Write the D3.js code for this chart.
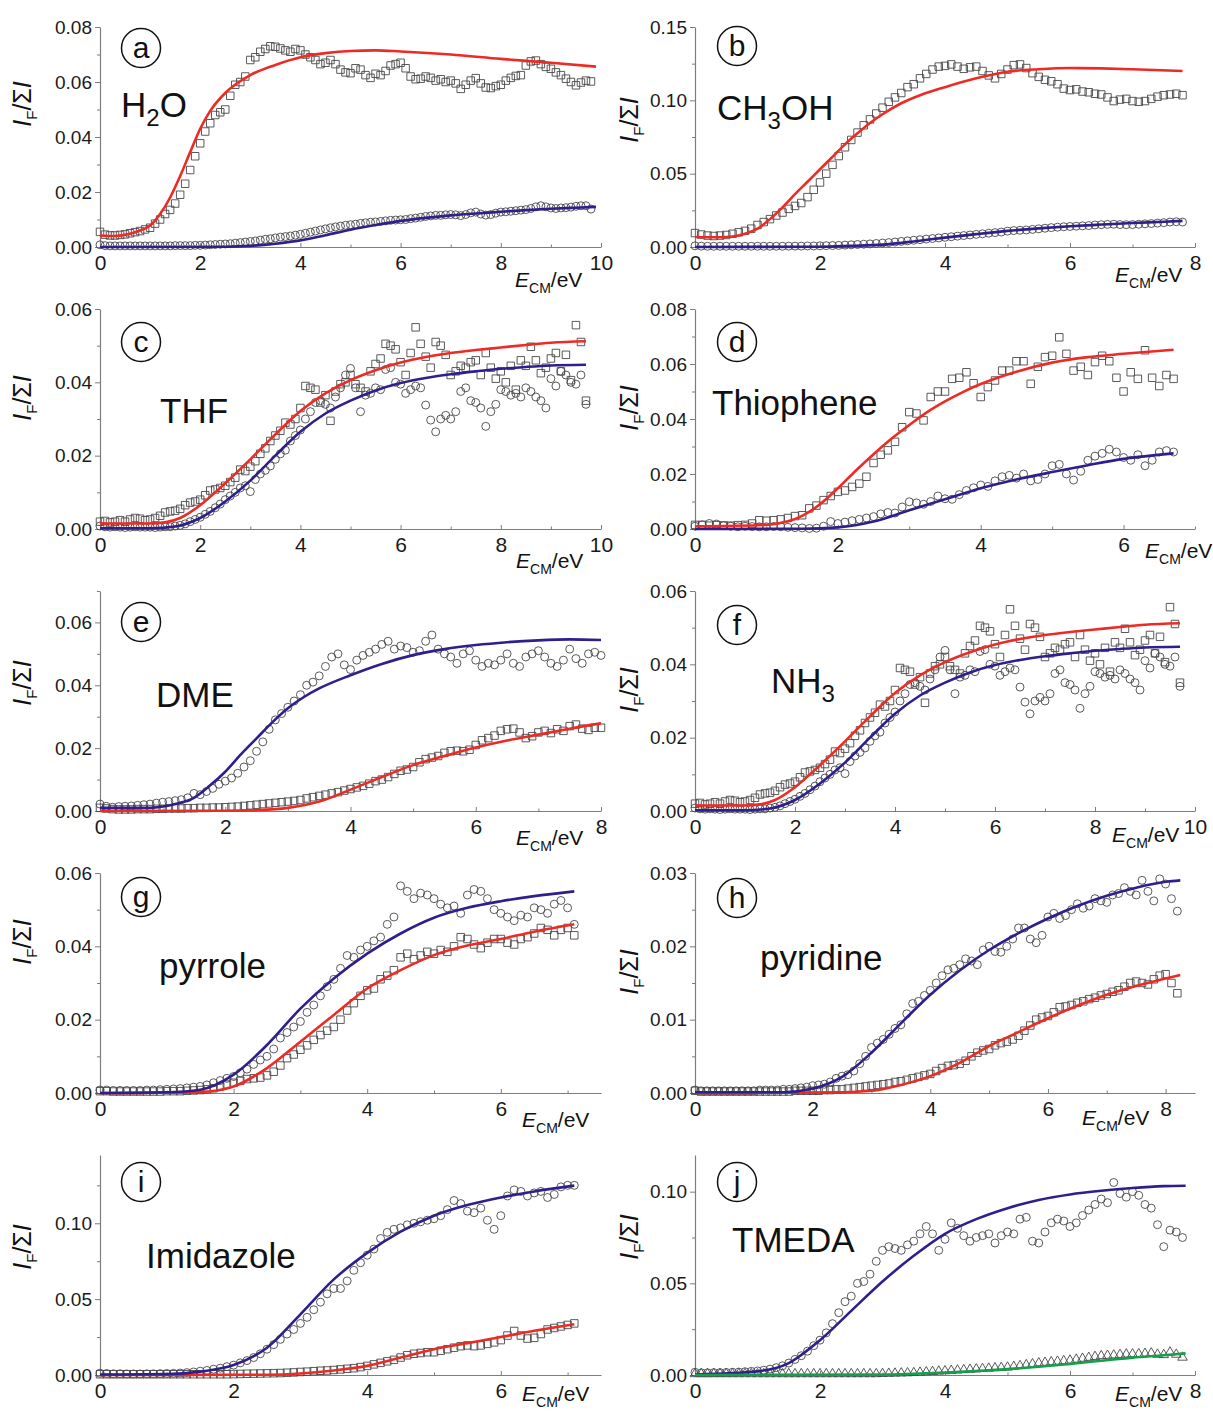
<!DOCTYPE html>
<html>
<head>
<meta charset="utf-8">
<script src="https://cdn.jsdelivr.net/npm/d3@7"></script>
<style>
body { margin: 0; background: #fff; }
svg { font-family: Arial, "Liberation Sans", sans-serif; }
</style>
</head>
<body>
<div class="container"></div>
<script>
const w = 1213
const h = 1412

const eStep = 0.1   // spacing of the measured points (eV), first point at 0

// (a) H2O
const aSquares = [
  0.0055,0.0045,0.0042,0.0042,0.0044,0.0046,0.0050,0.0054,0.0058,0.0064,
  0.0070,0.0085,0.0100,0.0120,0.0135,0.0158,0.0190,0.0230,0.0280,0.0330,
  0.0377,0.0420,0.0450,0.0480,0.0490,0.0500,0.0550,0.0590,0.0600,0.0620,
  0.0680,0.0690,0.0710,0.0720,0.0730,0.0728,0.0722,0.0715,0.0710,0.0720,
  0.0715,0.0700,0.0690,0.0680,0.0665,0.0670,0.0680,0.0665,0.0645,0.0635,
  0.0632,0.0650,0.0645,0.0625,0.0615,0.0630,0.0625,0.0640,0.0660,0.0665,
  0.0670,0.0650,0.0620,0.0610,0.0612,0.0620,0.0615,0.0605,0.0610,0.0600,
  0.0605,0.0595,0.0575,0.0590,0.0605,0.0614,0.0595,0.0580,0.0578,0.0585,
  0.0590,0.0605,0.0615,0.0622,0.0625,0.0660,0.0675,0.0678,0.0665,0.0655,
  0.0648,0.0635,0.0625,0.0612,0.0600,0.0588,0.0598,0.0605,0.0602]
const aCircles = [
  0.0008,0.0005,0.0004,0.0004,0.0004,0.0004,0.0004,0.0004,0.0004,0.0004,
  0.0004,0.0004,0.0004,0.0004,0.0004,0.0005,0.0005,0.0005,0.0005,0.0006,
  0.0006,0.0007,0.0008,0.0009,0.0010,0.0011,0.0012,0.0014,0.0016,0.0018,
  0.0020,0.0022,0.0025,0.0028,0.0030,0.0033,0.0036,0.0038,0.0040,0.0043,
  0.0046,0.0050,0.0054,0.0058,0.0062,0.0066,0.0070,0.0073,0.0076,0.0079,
  0.0081,0.0083,0.0086,0.0088,0.0090,0.0091,0.0093,0.0095,0.0097,0.0098,
  0.0099,0.0100,0.0103,0.0105,0.0108,0.0111,0.0113,0.0115,0.0115,0.0117,
  0.0118,0.0117,0.0114,0.0118,0.0124,0.0127,0.0120,0.0116,0.0118,0.0123,
  0.0127,0.0128,0.0130,0.0132,0.0134,0.0136,0.0140,0.0146,0.0150,0.0146,
  0.0142,0.0140,0.0142,0.0143,0.0145,0.0148,0.0150,0.0150,0.0138]
const aRedFit = [[0,0.0042],[0.3,0.0040],[0.6,0.0048],[0.8,0.0060],[1.0,0.0078],[1.2,0.0120],[1.4,0.0180],[1.6,0.0258],[1.8,0.0345],[2.0,0.0430],[2.2,0.0495],[2.5,0.0560],[3.0,0.0625],[3.5,0.0662],[4.0,0.0690],[4.5,0.0705],[5.0,0.0713],[5.5,0.0715],[6.0,0.0711],[7.0,0.0700],[8.0,0.0684],[9.0,0.0670],[9.9,0.0656]]
const aBlueFit = [[0,0],[2.5,0.0001],[3.0,0.0004],[3.5,0.0012],[4.0,0.0024],[4.5,0.0043],[5.0,0.0063],[5.5,0.0080],[6.0,0.0095],[6.5,0.0106],[7.0,0.0115],[7.5,0.0122],[8.0,0.0128],[8.5,0.0134],[9.0,0.0139],[9.5,0.0143],[9.9,0.0146]]

// (b) CH3OH
const bSquares = [
  0.0095,0.0085,0.0078,0.0075,0.0078,0.0082,0.0090,0.0100,0.0110,0.0125,
  0.0150,0.0170,0.0190,0.0215,0.0235,0.0260,0.0280,0.0300,0.0340,0.0390,
  0.0440,0.0500,0.0560,0.0620,0.0680,0.0730,0.0780,0.0830,0.0870,0.0910,
  0.0950,0.0990,0.1020,0.1050,0.1090,0.1110,0.1150,0.1180,0.1210,0.1230,
  0.1235,0.1245,0.1230,0.1215,0.1225,0.1230,0.1200,0.1170,0.1150,0.1180,
  0.1210,0.1240,0.1245,0.1220,0.1185,0.1160,0.1140,0.1130,0.1110,0.1080,
  0.1070,0.1075,0.1060,0.1055,0.1045,0.1040,0.1020,0.0995,0.1005,0.1010,
  0.0995,0.0990,0.0995,0.1010,0.1025,0.1035,0.1040,0.1045,0.1035]
const bCircles = [
  0.0008,0.0006,0.0005,0.0005,0.0005,0.0005,0.0005,0.0005,0.0005,0.0005,
  0.0005,0.0005,0.0005,0.0005,0.0005,0.0006,0.0006,0.0006,0.0007,0.0007,
  0.0008,0.0009,0.0010,0.0011,0.0013,0.0015,0.0017,0.0019,0.0021,0.0024,
  0.0027,0.0030,0.0034,0.0038,0.0042,0.0046,0.0050,0.0054,0.0058,0.0062,
  0.0066,0.0070,0.0074,0.0078,0.0082,0.0086,0.0090,0.0094,0.0098,0.0102,
  0.0108,0.0112,0.0114,0.0116,0.0120,0.0124,0.0128,0.0132,0.0135,0.0138,
  0.0140,0.0142,0.0144,0.0146,0.0150,0.0152,0.0154,0.0155,0.0153,0.0152,
  0.0153,0.0155,0.0158,0.0160,0.0163,0.0166,0.0170,0.0172,0.0170]
const bRedFit = [[0,0.0068],[0.3,0.0066],[0.6,0.0072],[0.8,0.0090],[1.0,0.0125],[1.2,0.0190],[1.4,0.0270],[1.6,0.0360],[1.8,0.0445],[2.0,0.0530],[2.2,0.0615],[2.4,0.0700],[2.6,0.0775],[2.8,0.0845],[3.0,0.0905],[3.3,0.0980],[3.6,0.1035],[4.0,0.1090],[4.5,0.1150],[5.0,0.1195],[5.5,0.1212],[6.0,0.1220],[6.5,0.1218],[7.0,0.1212],[7.8,0.1200]]
const bBlueFit = [[0,0],[2.0,0.0002],[2.5,0.0008],[3.0,0.0016],[3.5,0.0038],[4.0,0.0064],[4.5,0.0088],[5.0,0.0110],[5.5,0.0127],[6.0,0.0141],[6.5,0.0153],[7.0,0.0164],[7.5,0.0172],[7.8,0.0178]]

// (c) THF
const cSquares = [
  0.0020,0.0022,0.0018,0.0020,0.0024,0.0020,0.0026,0.0030,0.0028,0.0024,
  0.0026,0.0030,0.0036,0.0045,0.0048,0.0050,0.0055,0.0065,0.0072,0.0075,
  0.0080,0.0092,0.0105,0.0108,0.0112,0.0118,0.0128,0.0140,0.0162,0.0158,
  0.0170,0.0185,0.0205,0.0220,0.0240,0.0255,0.0268,0.0290,0.0285,0.0300,
  0.0330,0.0390,0.0385,0.0380,0.0345,0.0365,0.0295,0.0375,0.0395,0.0400,
  0.0420,0.0395,0.0385,0.0375,0.0430,0.0450,0.0465,0.0505,0.0500,0.0490,
  0.0455,0.0420,0.0480,0.0550,0.0505,0.0470,0.0440,0.0510,0.0500,0.0475,
  0.0420,0.0430,0.0445,0.0440,0.0455,0.0460,0.0420,0.0480,0.0440,0.0410,
  0.0430,0.0400,0.0445,0.0380,0.0460,0.0445,0.0497,0.0460,0.0425,0.0440,
  0.0465,0.0480,0.0430,0.0475,0.0406,0.0556,0.0510,0.0350]
const cCircles = [
  0.0008,0.0006,0.0005,0.0006,0.0005,0.0004,0.0005,0.0006,0.0005,0.0005,
  0.0005,0.0004,0.0005,0.0006,0.0006,0.0008,0.0010,0.0014,0.0020,0.0026,
  0.0032,0.0040,0.0048,0.0058,0.0068,0.0080,0.0090,0.0100,0.0112,0.0118,
  0.0102,0.0135,0.0150,0.0160,0.0172,0.0190,0.0205,0.0215,0.0240,0.0255,
  0.0270,0.0300,0.0320,0.0345,0.0350,0.0340,0.0330,0.0360,0.0385,0.0420,
  0.0438,0.0385,0.0320,0.0365,0.0370,0.0385,0.0380,0.0435,0.0440,0.0400,
  0.0395,0.0370,0.0380,0.0390,0.0385,0.0338,0.0297,0.0265,0.0300,0.0310,
  0.0300,0.0320,0.0375,0.0385,0.0350,0.0345,0.0330,0.0280,0.0320,0.0340,
  0.0380,0.0375,0.0365,0.0370,0.0360,0.0385,0.0375,0.0360,0.0350,0.0330,
  0.0410,0.0390,0.0430,0.0420,0.0400,0.0395,0.0420,0.0340]
const cRedFit = [[0,0.0015],[1.0,0.0015],[1.3,0.0018],[1.6,0.0030],[2.0,0.0065],[2.5,0.0125],[3.0,0.0190],[3.5,0.0258],[4.0,0.0322],[4.5,0.0370],[5.0,0.0406],[5.5,0.0433],[6.0,0.0454],[6.5,0.0469],[7.0,0.0480],[7.5,0.0488],[8.0,0.0495],[8.5,0.0502],[9.0,0.0508],[9.7,0.0512]]
const cBlueFit = [[0,0.0002],[1.0,0.0002],[1.5,0.0007],[2.0,0.0030],[2.5,0.0075],[3.0,0.0132],[3.5,0.0200],[4.0,0.0265],[4.5,0.0315],[5.0,0.0350],[5.5,0.0378],[6.0,0.0398],[6.5,0.0412],[7.0,0.0422],[7.5,0.0430],[8.0,0.0437],[8.5,0.0442],[9.0,0.0446],[9.7,0.0448]]

// (d) Thiophene
const dSquares = [
  0.0015,0.0015,0.0012,0.0014,0.0013,0.0012,0.0014,0.0015,0.0020,0.0032,
  0.0030,0.0032,0.0035,0.0040,0.0047,0.0050,0.0075,0.0085,0.0105,0.0120,
  0.0135,0.0140,0.0153,0.0165,0.0190,0.0240,0.0270,0.0286,0.0317,0.0370,
  0.0425,0.0420,0.0395,0.0480,0.0500,0.0500,0.0546,0.0550,0.0570,0.0530,
  0.0480,0.0516,0.0540,0.0576,0.0576,0.0610,0.0610,0.0528,0.0590,0.0625,
  0.0630,0.0697,0.0637,0.0576,0.0590,0.0560,0.0607,0.0630,0.0610,0.0550,
  0.0500,0.0570,0.0546,0.0650,0.0550,0.0520,0.0560,0.0546]
const dCircles = [
  0.0010,0.0015,0.0020,0.0018,0.0012,0.0010,0.0008,0.0010,0.0009,0.0008,
  0.0008,0.0009,0.0008,0.0006,0.0005,0.0004,0.0002,0.0003,0.0010,0.0027,
  0.0020,0.0025,0.0030,0.0035,0.0040,0.0045,0.0055,0.0060,0.0058,0.0080,
  0.0099,0.0095,0.0090,0.0100,0.0120,0.0110,0.0108,0.0125,0.0140,0.0150,
  0.0160,0.0155,0.0175,0.0190,0.0195,0.0185,0.0200,0.0175,0.0180,0.0200,
  0.0230,0.0235,0.0200,0.0178,0.0210,0.0250,0.0265,0.0275,0.0290,0.0280,
  0.0260,0.0250,0.0270,0.0230,0.0250,0.0280,0.0285,0.0280]
const dRedFit = [[0,0.0010],[1.0,0.0015],[1.3,0.0028],[1.5,0.0048],[1.75,0.0090],[2.0,0.0148],[2.25,0.0212],[2.5,0.0272],[2.75,0.0328],[3.0,0.0378],[3.25,0.0425],[3.5,0.0464],[3.75,0.0498],[4.0,0.0527],[4.5,0.0572],[5.0,0.0605],[5.5,0.0625],[6.0,0.0637],[6.7,0.0652]]
const dBlueFit = [[0,0],[1.5,0.0001],[2.0,0.0006],[2.5,0.0027],[3.0,0.0068],[3.5,0.0108],[4.0,0.0148],[4.5,0.0180],[5.0,0.0207],[5.5,0.0232],[6.0,0.0255],[6.7,0.0275]]

// (e) DME
const eCircles = [
  0.0022,0.0015,0.0012,0.0014,0.0015,0.0016,0.0018,0.0020,0.0022,0.0025,
  0.0028,0.0030,0.0033,0.0036,0.0042,0.0056,0.0052,0.0062,0.0072,0.0085,
  0.0095,0.0105,0.0120,0.0140,0.0160,0.0190,0.0220,0.0260,0.0290,0.0310,
  0.0330,0.0350,0.0370,0.0400,0.0410,0.0430,0.0460,0.0490,0.0500,0.0465,
  0.0450,0.0480,0.0495,0.0505,0.0515,0.0530,0.0540,0.0515,0.0525,0.0520,
  0.0505,0.0510,0.0540,0.0560,0.0515,0.0500,0.0490,0.0470,0.0500,0.0510,
  0.0480,0.0460,0.0470,0.0465,0.0480,0.0500,0.0470,0.0460,0.0490,0.0500,
  0.0510,0.0490,0.0470,0.0460,0.0480,0.0515,0.0485,0.0470,0.0500,0.0505,0.0495]
const eSquares = [
  0.0010,0.0008,0.0006,0.0005,0.0005,0.0005,0.0006,0.0006,0.0006,0.0007,
  0.0007,0.0008,0.0008,0.0008,0.0009,0.0009,0.0010,0.0010,0.0011,0.0011,
  0.0012,0.0013,0.0014,0.0016,0.0018,0.0020,0.0022,0.0024,0.0026,0.0028,
  0.0030,0.0032,0.0035,0.0040,0.0044,0.0048,0.0052,0.0056,0.0060,0.0065,
  0.0070,0.0075,0.0080,0.0087,0.0095,0.0100,0.0108,0.0118,0.0128,0.0132,
  0.0140,0.0155,0.0165,0.0170,0.0175,0.0185,0.0190,0.0192,0.0190,0.0195,
  0.0210,0.0225,0.0232,0.0240,0.0255,0.0260,0.0262,0.0250,0.0232,0.0238,
  0.0250,0.0255,0.0248,0.0260,0.0255,0.0270,0.0275,0.0262,0.0258,0.0265,0.0265]
const eBlueFit = [[0,0.0010],[0.8,0.0010],[1.2,0.0022],[1.5,0.0042],[1.75,0.0080],[2.0,0.0125],[2.25,0.0180],[2.5,0.0231],[2.75,0.0282],[3.0,0.0327],[3.25,0.0362],[3.5,0.0390],[4.0,0.0432],[4.5,0.0468],[5.0,0.0496],[5.5,0.0515],[6.0,0.0528],[6.5,0.0537],[7.0,0.0543],[7.5,0.0546],[8.0,0.0544]]
const eRedFit = [[0,0],[2.0,0.0001],[2.5,0.0003],[3.0,0.0010],[3.5,0.0030],[4.0,0.0068],[4.5,0.0108],[5.0,0.0146],[5.5,0.0175],[6.0,0.0202],[6.5,0.0224],[7.0,0.0243],[7.5,0.0262],[8.0,0.0279]]

// (f) NH3 -- the published panel carries the same points as (c)
const fSquares = cSquares
const fCircles = cCircles
const fRedFit = cRedFit
const fBlueFit = cBlueFit

// (g) pyrrole
const gCircles = [
  0.0008,0.0008,0.0007,0.0007,0.0007,0.0007,0.0007,0.0008,0.0008,0.0009,
  0.0010,0.0011,0.0012,0.0014,0.0016,0.0018,0.0022,0.0028,0.0034,0.0040,
  0.0045,0.0055,0.0065,0.0078,0.0090,0.0100,0.0120,0.0150,0.0165,0.0180,
  0.0195,0.0220,0.0240,0.0265,0.0290,0.0310,0.0340,0.0375,0.0370,0.0390,
  0.0400,0.0415,0.0425,0.0460,0.0480,0.0565,0.0550,0.0530,0.0545,0.0540,
  0.0530,0.0515,0.0505,0.0510,0.0490,0.0540,0.0555,0.0550,0.0530,0.0500,
  0.0490,0.0480,0.0470,0.0485,0.0480,0.0505,0.0500,0.0490,0.0515,0.0525,0.0505,0.0460]
const gSquares = [
  0.0005,0.0005,0.0004,0.0004,0.0004,0.0004,0.0004,0.0004,0.0004,0.0004,
  0.0005,0.0005,0.0005,0.0006,0.0007,0.0008,0.0010,0.0013,0.0018,0.0023,
  0.0028,0.0033,0.0038,0.0040,0.0042,0.0048,0.0058,0.0075,0.0095,0.0105,
  0.0118,0.0130,0.0145,0.0158,0.0170,0.0180,0.0200,0.0225,0.0245,0.0265,
  0.0280,0.0285,0.0310,0.0320,0.0335,0.0370,0.0380,0.0365,0.0375,0.0385,
  0.0380,0.0390,0.0385,0.0400,0.0425,0.0420,0.0405,0.0395,0.0410,0.0420,
  0.0420,0.0410,0.0405,0.0420,0.0425,0.0435,0.0450,0.0445,0.0430,0.0445,0.0450,0.0430]
const gBlueFit = [[0,0],[1.0,0.0002],[1.5,0.0009],[2.0,0.0050],[2.5,0.0131],[3.0,0.0230],[3.5,0.0312],[4.0,0.0380],[4.5,0.0435],[5.0,0.0478],[5.5,0.0505],[6.0,0.0523],[6.5,0.0537],[7.1,0.0550]]
const gRedFit = [[0,0],[1.5,0.0003],[2.0,0.0018],[2.5,0.0068],[3.0,0.0140],[3.5,0.0213],[4.0,0.0285],[4.5,0.0335],[5.0,0.0376],[5.5,0.0402],[6.0,0.0420],[6.5,0.0440],[7.1,0.0460]]

// (h) pyridine
const hCircles = [
  0.0004,0.0003,0.0003,0.0003,0.0003,0.0003,0.0003,0.0003,0.0003,0.0003,
  0.0003,0.0004,0.0004,0.0004,0.0004,0.0005,0.0005,0.0006,0.0007,0.0008,
  0.0010,0.0011,0.0012,0.0015,0.0020,0.0023,0.0025,0.0030,0.0040,0.0050,
  0.0062,0.0068,0.0073,0.0080,0.0088,0.0093,0.0108,0.0122,0.0125,0.0133,
  0.0140,0.0150,0.0160,0.0168,0.0170,0.0175,0.0183,0.0180,0.0175,0.0195,
  0.0200,0.0193,0.0192,0.0200,0.0210,0.0225,0.0225,0.0210,0.0205,0.0215,
  0.0240,0.0245,0.0238,0.0242,0.0250,0.0258,0.0252,0.0255,0.0265,0.0262,
  0.0260,0.0270,0.0272,0.0280,0.0275,0.0270,0.0290,0.0275,0.0262,0.0292,0.0285,0.0265,0.0248]
const hSquares = [
  0.0003,0.0002,0.0002,0.0002,0.0002,0.0002,0.0002,0.0002,0.0002,0.0002,
  0.0002,0.0002,0.0002,0.0002,0.0002,0.0002,0.0002,0.0003,0.0003,0.0003,
  0.0003,0.0003,0.0004,0.0004,0.0005,0.0005,0.0006,0.0007,0.0008,0.0009,
  0.0010,0.0011,0.0012,0.0013,0.0015,0.0016,0.0018,0.0020,0.0022,0.0024,
  0.0026,0.0030,0.0034,0.0037,0.0038,0.0040,0.0044,0.0050,0.0055,0.0058,
  0.0060,0.0065,0.0068,0.0070,0.0073,0.0078,0.0085,0.0092,0.0100,0.0103,
  0.0105,0.0110,0.0117,0.0118,0.0120,0.0123,0.0125,0.0128,0.0130,0.0133,
  0.0135,0.0138,0.0140,0.0145,0.0150,0.0152,0.0150,0.0148,0.0155,0.0160,0.0162,0.0150,0.0136]
const hBlueFit = [[0,0.0001],[1.5,0.0001],[2.0,0.0006],[2.5,0.0022],[3.0,0.0055],[3.5,0.0095],[4.0,0.0134],[4.5,0.0167],[5.0,0.0195],[5.5,0.0218],[6.0,0.0238],[6.5,0.0255],[7.0,0.0269],[7.5,0.0280],[8.0,0.0288],[8.25,0.0290]]
const hRedFit = [[0,0],[2.5,0.0001],[3.0,0.0003],[3.5,0.0011],[4.0,0.0023],[4.5,0.0041],[5.0,0.0064],[5.5,0.0083],[6.0,0.0102],[6.5,0.0119],[7.0,0.0134],[7.5,0.0146],[8.0,0.0156],[8.25,0.0161]]

// (i) Imidazole
const iCircles = [
  0.0012,0.0010,0.0008,0.0008,0.0007,0.0007,0.0007,0.0008,0.0008,0.0009,
  0.0010,0.0011,0.0013,0.0016,0.0020,0.0025,0.0030,0.0038,0.0045,0.0055,
  0.0065,0.0080,0.0095,0.0115,0.0140,0.0170,0.0200,0.0235,0.0270,0.0300,
  0.0340,0.0380,0.0430,0.0480,0.0535,0.0570,0.0570,0.0620,0.0690,0.0740,
  0.0790,0.0830,0.0900,0.0940,0.0960,0.0970,0.0990,0.1000,0.1010,0.1020,
  0.1030,0.1050,0.1090,0.1150,0.1130,0.1080,0.1070,0.1100,0.1020,0.0960,
  0.1050,0.1180,0.1220,0.1210,0.1180,0.1200,0.1210,0.1170,0.1190,0.1240,0.1250,0.1250]
const iSquares = [
  0.0005,0.0005,0.0005,0.0005,0.0005,0.0005,0.0005,0.0005,0.0005,0.0005,
  0.0005,0.0005,0.0005,0.0005,0.0005,0.0005,0.0005,0.0005,0.0005,0.0005,
  0.0006,0.0007,0.0008,0.0009,0.0010,0.0011,0.0012,0.0013,0.0015,0.0017,
  0.0020,0.0022,0.0025,0.0028,0.0030,0.0033,0.0037,0.0041,0.0045,0.0052,
  0.0060,0.0070,0.0080,0.0090,0.0100,0.0115,0.0130,0.0140,0.0145,0.0150,
  0.0150,0.0160,0.0170,0.0180,0.0190,0.0195,0.0190,0.0195,0.0205,0.0215,
  0.0230,0.0260,0.0290,0.0260,0.0240,0.0245,0.0270,0.0300,0.0310,0.0320,0.0330,0.0340]
const iBlueFit = [[0,0.0003],[1.0,0.0006],[1.5,0.0022],[2.0,0.0066],[2.5,0.0180],[3.0,0.0400],[3.5,0.0630],[4.0,0.0805],[4.5,0.0945],[5.0,0.1050],[5.5,0.1120],[6.0,0.1170],[6.5,0.1210],[7.1,0.1248]]
const iRedFit = [[0,0],[2.5,0.0002],[3.0,0.0010],[3.5,0.0030],[4.0,0.0060],[4.5,0.0115],[5.0,0.0170],[5.5,0.0210],[6.0,0.0250],[6.5,0.0292],[7.1,0.0335]]

// (j) TMEDA
const jCircles = [
  0.0015,0.0012,0.0012,0.0013,0.0013,0.0014,0.0015,0.0016,0.0018,0.0020,
  0.0022,0.0026,0.0032,0.0040,0.0050,0.0065,0.0085,0.0105,0.0130,0.0160,
  0.0190,0.0230,0.0280,0.0340,0.0400,0.0430,0.0500,0.0510,0.0550,0.0620,
  0.0680,0.0700,0.0690,0.0680,0.0710,0.0730,0.0770,0.0810,0.0770,0.0680,
  0.0740,0.0830,0.0800,0.0760,0.0730,0.0750,0.0760,0.0770,0.0720,0.0760,
  0.0780,0.0770,0.0850,0.0860,0.0730,0.0720,0.0780,0.0830,0.0850,0.0840,
  0.0810,0.0830,0.0870,0.0900,0.0930,0.0960,0.0940,0.1050,0.0990,0.0970,
  0.1000,0.0980,0.0930,0.0910,0.0820,0.0700,0.0790,0.0780,0.0750]
const jTriangles = [
  0.0006,0.0006,0.0006,0.0006,0.0006,0.0006,0.0006,0.0006,0.0006,0.0006,
  0.0006,0.0006,0.0006,0.0006,0.0006,0.0006,0.0006,0.0006,0.0006,0.0006,
  0.0006,0.0006,0.0006,0.0006,0.0006,0.0006,0.0006,0.0006,0.0006,0.0006,
  0.0007,0.0008,0.0009,0.0010,0.0011,0.0012,0.0014,0.0016,0.0018,0.0020,
  0.0022,0.0024,0.0026,0.0028,0.0030,0.0032,0.0034,0.0036,0.0038,0.0040,
  0.0042,0.0046,0.0050,0.0055,0.0060,0.0065,0.0068,0.0071,0.0074,0.0077,
  0.0080,0.0085,0.0090,0.0095,0.0100,0.0104,0.0106,0.0108,0.0111,0.0113,
  0.0114,0.0115,0.0117,0.0119,0.0112,0.0110,0.0124,0.0112,0.0096]
const jBlueFit = [[0,0.0003],[1.0,0.0020],[1.5,0.0065],[2.0,0.0190],[2.5,0.0350],[3.0,0.0510],[3.5,0.0650],[4.0,0.0770],[4.5,0.0850],[5.0,0.0910],[5.5,0.0955],[6.0,0.0985],[6.5,0.1005],[7.0,0.1020],[7.5,0.1030],[7.85,0.1032]]
const jGreenFit = [[0,0],[3.0,0.0002],[3.5,0.0007],[4.0,0.0014],[4.5,0.0022],[5.0,0.0032],[5.5,0.0045],[6.0,0.0060],[6.5,0.0078],[7.0,0.0095],[7.5,0.0108],[7.85,0.0118]]

// tick labels
const xTicks10 = [0, 2, 4, 6, 8, 10]
const xTicks8 = [0, 2, 4, 6, 8]
const xTicks6 = [0, 2, 4, 6]
const yTicks08 = [0, 0.02, 0.04, 0.06, 0.08]
const yTicks06 = [0, 0.02, 0.04, 0.06]
const yTicks15 = [0, 0.05, 0.10, 0.15]
const yTicks10 = [0, 0.05, 0.10]
const yTicks03 = [0, 0.01, 0.02, 0.03]

const red = '#ee2a24'
const navy = '#2d1f8c'
const green = '#13a04c'

const panels = [
  {letter: 'a', name: [['H'], ['2', 1], ['O']], col: 0, row: 0, xMax: 10, xTicks: xTicks10, yMax: 0.08, yTicks: yTicks08,
   marks: [[aSquares, 'square'], [aCircles, 'circle']], fits: [[aRedFit, red], [aBlueFit, navy]],
   circ: [141, 48], namePos: [121, 117], titlePos: [515, 287], yLab: 104},
  {letter: 'b', name: [['CH'], ['3', 1], ['OH']], col: 1, row: 0, xMax: 8, xTicks: xTicks8, yMax: 0.15, yTicks: yTicks15,
   marks: [[bSquares, 'square'], [bCircles, 'circle']], fits: [[bRedFit, red], [bBlueFit, navy]],
   circ: [737, 46], namePos: [717, 120], titlePos: [1115, 282], yLab: 120},
  {letter: 'c', name: [['THF']], col: 0, row: 1, xMax: 10, xTicks: xTicks10, yMax: 0.06, yTicks: yTicks06,
   marks: [[cSquares, 'square'], [cCircles, 'circle']], fits: [[cRedFit, red], [cBlueFit, navy]],
   circ: [141, 342], namePos: [160, 423], titlePos: [516, 568], yLab: 398},
  {letter: 'd', name: [['Thiophene']], col: 1, row: 1, xMax: 7, xTicks: xTicks6, yMax: 0.08, yTicks: yTicks08,
   marks: [[dSquares, 'square'], [dCircles, 'circle']], fits: [[dRedFit, red], [dBlueFit, navy]],
   circ: [737, 342], namePos: [712, 415], titlePos: [1145, 558], yLab: 408},
  {letter: 'e', name: [['DME']], col: 0, row: 2, xMax: 8, xTicks: xTicks8, yMax: 0.07, yTicks: yTicks06,
   marks: [[eSquares, 'square'], [eCircles, 'circle']], fits: [[eRedFit, red], [eBlueFit, navy]],
   circ: [141, 622], namePos: [156, 707], titlePos: [516, 845], yLab: 683},
  {letter: 'f', name: [['NH'], ['3', 1]], col: 1, row: 2, xMax: 10, xTicks: xTicks10, yMax: 0.06, yTicks: yTicks06,
   marks: [[fSquares, 'square'], [fCircles, 'circle']], fits: [[fRedFit, red], [fBlueFit, navy]],
   circ: [737, 625], namePos: [771, 693], titlePos: [1112, 842], yLab: 690},
  {letter: 'g', name: [['pyrrole']], col: 0, row: 3, xMax: 7.5, xTicks: xTicks6, yMax: 0.06, yTicks: yTicks06,
   marks: [[gSquares, 'square'], [gCircles, 'circle']], fits: [[gRedFit, red], [gBlueFit, navy]],
   circ: [141, 897], namePos: [159, 978], titlePos: [522, 1127], yLab: 942},
  {letter: 'h', name: [['pyridine']], col: 1, row: 3, xMax: 8.5, xTicks: xTicks8, yMax: 0.03, yTicks: yTicks03,
   marks: [[hSquares, 'square'], [hCircles, 'circle']], fits: [[hRedFit, red], [hBlueFit, navy]],
   circ: [737, 898], namePos: [760, 970], titlePos: [1082, 1125], yLab: 972},
  {letter: 'i', name: [['Imidazole']], col: 0, row: 4, xMax: 7.5, xTicks: xTicks6, yMax: 0.145, yTicks: yTicks10,
   marks: [[iSquares, 'square'], [iCircles, 'circle']], fits: [[iRedFit, red], [iBlueFit, navy]],
   circ: [141, 1182], namePos: [146, 1268], titlePos: [522, 1401], yLab: 1247},
  {letter: 'j', name: [['TMEDA']], col: 1, row: 4, xMax: 8, xTicks: xTicks8, yMax: 0.12, yTicks: yTicks10,
   marks: [[jTriangles, 'triangle'], [jCircles, 'circle']], fits: [[jBlueFit, navy], [jGreenFit, green]],
   circ: [737, 1182], namePos: [732, 1252], titlePos: [1115, 1401], yLab: 1237}
]

const svg = d3.select('.container')
  .append('svg')
  .attr('width', w)
  .attr('height', h)

const axisColor = '#7d7d7d'
const symbols = {square: d3.symbolSquare, circle: d3.symbolCircle, triangle: d3.symbolTriangle}
const symbolSize = {square: 56, circle: 50, triangle: 40}

const minors = (ticks, max) => {
  const step = ticks[1] - ticks[0]
  const out = []
  for (let v = ticks[0] + step / 2; v <= max + 1e-9; v += step) out.push(v)
  return out
}

const styleAxis = g => {
  g.select('.domain').attr('stroke', axisColor).attr('stroke-width', 1.2)
  g.selectAll('.tick line').attr('stroke', axisColor).attr('stroke-width', 1)
  g.selectAll('.tick text').attr('fill', '#1a1a1a').attr('font-family', 'Arial, "Liberation Sans", sans-serif')
}

panels.forEach(p => {
  const left = p.col ? 695 : 100
  const right = p.col ? 1195 : 601
  const bottom = 247 + p.row * 282
  const top = bottom - 220

  const x = d3.scaleLinear().domain([0, p.xMax]).range([left, right])
  const y = d3.scaleLinear().domain([0, p.yMax]).range([bottom, top])
  const g = svg.append('g')

  // axes (x ticks point inward, y ticks outward)
  g.append('g')
    .attr('transform', `translate(0,${bottom})`)
    .call(d3.axisBottom(x).tickValues(minors(p.xTicks, p.xMax)).tickSize(-2.5).tickFormat(''))
    .call(a => a.select('.domain').remove())
    .call(styleAxis)
  g.append('g')
    .attr('transform', `translate(0,${bottom})`)
    .call(d3.axisBottom(x).tickValues(p.xTicks).tickSize(-4).tickSizeOuter(0).tickPadding(8).tickFormat(d3.format('d')))
    .call(styleAxis)
    .selectAll('.tick text').attr('font-size', 21)
  g.append('g')
    .attr('transform', `translate(${left},0)`)
    .call(d3.axisLeft(y).tickValues(minors(p.yTicks, p.yMax)).tickSize(3).tickFormat(''))
    .call(a => a.select('.domain').remove())
    .call(styleAxis)
  g.append('g')
    .attr('transform', `translate(${left},0)`)
    .call(d3.axisLeft(y).tickValues(p.yTicks).tickSize(5).tickSizeOuter(0).tickPadding(3).tickFormat(d3.format('.2f')))
    .call(styleAxis)
    .selectAll('.tick text').attr('font-size', 19)

  // measured points
  p.marks.forEach(([vals, kind]) => {
    g.append('g').selectAll('path')
      .data(vals)
      .enter()
      .append('path')
      .attr('d', d3.symbol(symbols[kind], symbolSize[kind]))
      .attr('transform', (d, i) => `translate(${x(i * eStep)},${y(d)})`)
      .attr('fill', 'none')
      .attr('stroke', '#474747')
      .attr('stroke-width', 0.9)
  })

  // fitted curves
  const line = d3.line().x(d => x(d[0])).y(d => y(d[1])).curve(d3.curveMonotoneX)
  p.fits.forEach(([pts, color]) => {
    g.append('path')
      .datum(pts)
      .attr('d', line)
      .attr('fill', 'none')
      .attr('stroke', color)
      .attr('stroke-width', 2.6)
  })

  // panel letter in a circle
  g.append('circle')
    .attr('cx', p.circ[0]).attr('cy', p.circ[1]).attr('r', 19.5)
    .attr('fill', 'none').attr('stroke', '#111').attr('stroke-width', 1.5)
  g.append('text')
    .text(p.letter)
    .attr('x', p.circ[0]).attr('y', p.circ[1] + 10)
    .attr('text-anchor', 'middle')
    .attr('font-size', 30)
    .attr('fill', '#111')

  // molecule name
  const nm = g.append('text')
    .attr('x', p.namePos[0]).attr('y', p.namePos[1])
    .attr('font-size', 35)
    .attr('fill', '#111')
  let shifted = false
  p.name.forEach(([s, sub]) => {
    const t = nm.append('tspan').text(s)
    if (sub) { t.attr('font-size', 24).attr('dy', 9); shifted = true }
    else if (shifted) { t.attr('dy', -9); shifted = false }
  })

  // x title
  const xt = g.append('text')
    .attr('x', p.titlePos[0]).attr('y', p.titlePos[1])
    .attr('font-size', 21).attr('fill', '#111')
  xt.append('tspan').text('E').attr('font-style', 'italic')
  xt.append('tspan').text('CM').attr('font-size', 14).attr('dy', 6)
  xt.append('tspan').text('/eV').attr('dy', -6)

  // y title
  const yt = g.append('text')
    .attr('transform', `translate(${p.col ? 638 : 31},${p.yLab}) rotate(-90)`)
    .attr('text-anchor', 'middle')
    .attr('font-size', 25).attr('fill', '#111')
  yt.append('tspan').text('I').attr('font-style', 'italic')
  yt.append('tspan').text('F').attr('font-size', 15).attr('dy', 6)
  yt.append('tspan').text('/\u03A3').attr('dy', -6)
  yt.append('tspan').text('I').attr('font-style', 'italic')
})
</script>
</body>
</html>
